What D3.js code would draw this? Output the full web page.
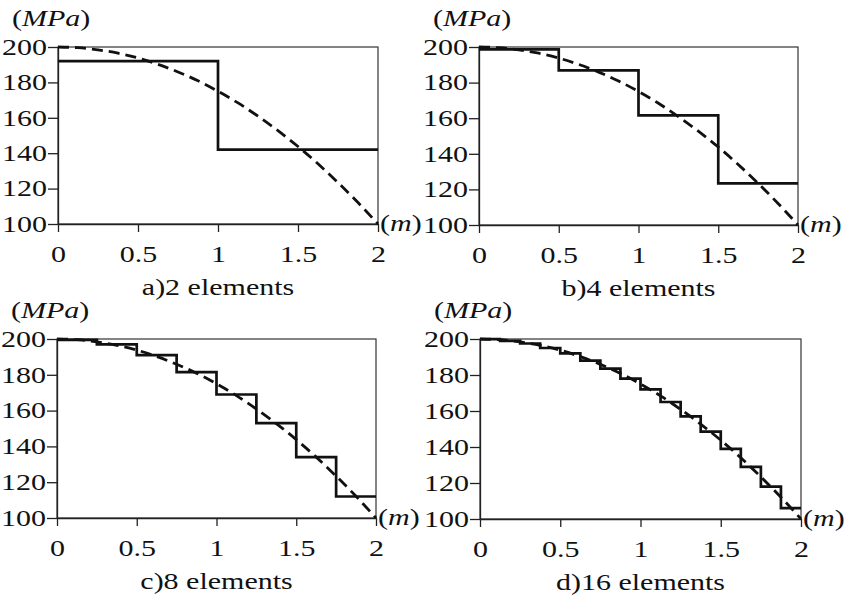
<!DOCTYPE html>
<html>
<head>
<meta charset="utf-8">
<script src="https://cdn.jsdelivr.net/npm/d3@7"></script>
<style>
  body { margin: 0; background: #fff; }
  svg text { font-family: 'Liberation Serif', 'DejaVu Serif', 'Times New Roman', serif; fill: #111; }
</style>
</head>
<body>
<svg id="chart" width="846" height="600"></svg>
<script>
// axis ticks
const xTicks = [0, 0.5, 1, 1.5, 2];
const yTicks = [100, 120, 140, 160, 180, 200];
const panelTitles = ['a)2 elements', 'b)4 elements', 'c)8 elements', 'd)16 elements'];

// exact stress (dashed curve), read every 0.125 m
const curveX = [0, 0.125, 0.25, 0.375, 0.5, 0.625, 0.75, 0.875, 1, 1.125, 1.25, 1.375, 1.5, 1.625, 1.75, 1.875, 2];
const curveY = [200, 199.6, 198.4, 196.5, 193.8, 190.2, 185.9, 180.9, 175, 168.4, 160.9, 152.7, 143.8, 134, 123.4, 112.1, 100];

// element stresses (solid steps)
const steps2 = [192, 142];
const steps4 = [198.7, 186.9, 161.6, 123.4];
const steps8 = [199.5, 197, 191, 181.5, 169, 153, 134, 112];
const steps16 = [199.9, 199, 197.5, 195, 192, 188, 183.5, 178, 172, 165, 157, 148.5, 139, 129, 118, 106];

const barLength = 2;
const SX = 1.25; // the figure's lettering is wider than the font
const FS = 24;
const FONT = "'Liberation Serif', 'DejaVu Serif', serif";

// plot boxes
const panels = [
  { steps: steps2,  left: 58,  top: 47,  right: 378, bottom: 224 },
  { steps: steps4,  left: 479, top: 47,  right: 798, bottom: 225 },
  { steps: steps8,  left: 57,  top: 339, right: 376, bottom: 518 },
  { steps: steps16, left: 480, top: 339, right: 801, bottom: 519 }
];

const svg = d3.select('#chart');

// text that is stretched horizontally around its anchor point
function wideText(parent, x, y, anchor) {
  return parent.append('g')
      .attr('transform', 'translate(' + x + ',' + y + ')')
    .append('text')
      .attr('transform', 'scale(' + SX + ',1)')
      .attr('text-anchor', anchor)
      .attr('font-family', FONT)
      .attr('font-size', FS);
}

panels.forEach(function(p, k) {
  const x = d3.scaleLinear().domain([0, barLength]).range([p.left, p.right]);
  const y = d3.scaleLinear().domain([100, 200]).range([p.bottom, p.top]);
  const g = svg.append('g');

  // frame
  g.append('rect')
      .attr('x', p.left).attr('y', p.top)
      .attr('width', p.right - p.left).attr('height', p.bottom - p.top)
      .attr('fill', 'none').attr('stroke', '#333').attr('stroke-width', 1.2);

  // y axis
  const yAxisG = g.append('g')
      .attr('transform', 'translate(' + p.left + ',0)')
      .call(d3.axisLeft(y).tickValues(yTicks).tickSize(10).tickSizeOuter(0).tickPadding(1));
  yAxisG.attr('font-family', FONT);
  yAxisG.selectAll('path, line').attr('stroke', '#222').attr('stroke-width', 1.3);
  yAxisG.selectAll('text')
      .attr('font-size', FS).attr('fill', '#111')
      .attr('transform', 'scale(' + SX + ',1)')
      .attr('x', -11 / SX)
      .attr('dy', '0.3em');

  // x axis
  const xAxisG = g.append('g')
      .attr('transform', 'translate(0,' + p.bottom + ')')
      .call(d3.axisBottom(x).tickValues(xTicks).tickSize(8).tickSizeOuter(0).tickPadding(13)
        .tickFormat(d3.format('')));
  xAxisG.attr('font-family', FONT);
  xAxisG.selectAll('path, line').attr('stroke', '#222').attr('stroke-width', 1.3);
  xAxisG.selectAll('text')
      .attr('font-size', FS).attr('fill', '#111')
      .attr('transform', 'scale(' + SX + ',1)');

  // dashed exact curve
  const curvePts = curveX.map((cx, i) => [cx, curveY[i]]);
  g.append('path')
      .datum(curvePts)
      .attr('fill', 'none')
      .attr('stroke', '#111')
      .attr('stroke-width', 2.8)
      .attr('stroke-dasharray', '11,6')
      .attr('d', d3.line().x(d => x(d[0])).y(d => y(d[1])).curve(d3.curveMonotoneX));

  // element steps
  const n = p.steps.length;
  const stepPts = p.steps.map((v, i) => [i * barLength / n, v]);
  stepPts.push([barLength, p.steps[n - 1]]);
  g.append('path')
      .datum(stepPts)
      .attr('fill', 'none')
      .attr('stroke', '#111')
      .attr('stroke-width', 2.7)
      .attr('stroke-linejoin', 'miter')
      .attr('d', d3.line().x(d => x(d[0])).y(d => y(d[1])).curve(d3.curveStepAfter));

  // unit labels
  const mpa = wideText(g, p.left - 46, p.top - 21, 'start');
  mpa.append('tspan').text('(');
  mpa.append('tspan').attr('font-style', 'italic').text('MPa');
  mpa.append('tspan').text(')');

  const m = wideText(g, p.right + 2, p.bottom + 7, 'start');
  m.append('tspan').text('(');
  m.append('tspan').attr('font-style', 'italic').text('m');
  m.append('tspan').text(')');

  // panel title
  wideText(g, (p.left + p.right) / 2, p.bottom + 71, 'middle').text(panelTitles[k]);
});
</script>
</body>
</html>
